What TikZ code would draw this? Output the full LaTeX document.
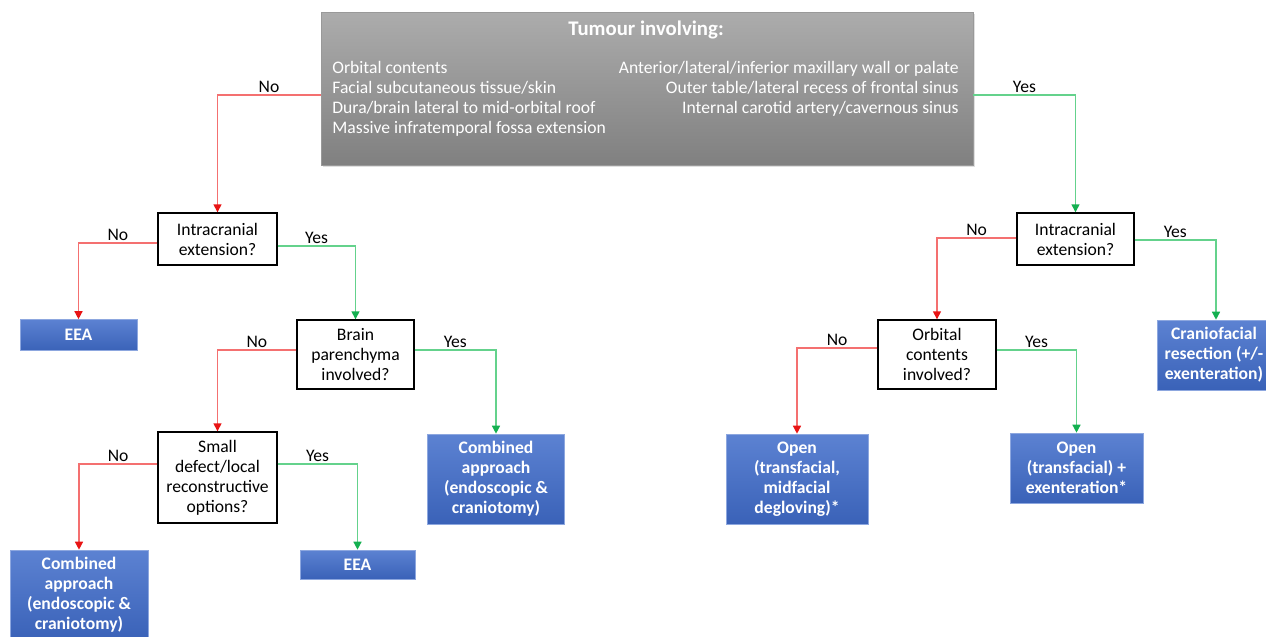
\documentclass[tikz,border=0pt]{standalone}
\usepackage{fontspec}
\setmainfont{Carlito}
\usepackage{xcolor}
\usetikzlibrary{arrows.meta}
\usetikzlibrary{shadows}

\definecolor{greytop}{RGB}{172,172,172}
\definecolor{greybot}{RGB}{128,128,128}
\definecolor{bluetop}{RGB}{92,130,210}
\definecolor{bluebot}{RGB}{58,98,184}
\definecolor{nored}{RGB}{244,112,112}
\definecolor{notip}{RGB}{232,20,20}
\definecolor{yesgreen}{RGB}{100,210,140}
\definecolor{yestip}{RGB}{20,176,80}

\newcommand{\boxfont}{\fontsize{8.8}{10}\selectfont}

\tikzset{
  question/.style={draw=black, line width=0.7pt, fill=white, align=center,
                   inner sep=0pt},
  answer/.style={top color=bluetop, bottom color=bluebot, draw=bluetop!70,
                 line width=0.3pt, text=white, font=\boxfont\bfseries,
                 align=center, inner sep=0pt},
  nowire/.style={nored, line width=0.7pt,
                 -{Triangle[width=4pt,length=4pt,color=notip]}},
  yeswire/.style={yesgreen, line width=0.7pt,
                  -{Triangle[width=4pt,length=4pt,color=yestip]}},
  branch/.style={above, inner sep=1pt, text=black}
}

\begin{document}
\begin{tikzpicture}[x=0.5pt, y=-0.5pt, font=\boxfont]
\useasboundingbox (0,0) rectangle (1266,637);

\node [top color=greytop, bottom color=greybot, draw=greybot!80,
       drop shadow={opacity=0.25, shadow xshift=0.8pt, shadow yshift=-0.8pt},
       minimum width=326pt, minimum height=76.5pt, inner sep=0pt]
       (tumour) at (647,88.5) {};
\node [text=white, font=\fontsize{10.4}{12}\selectfont\bfseries] (title) at (646,30) {Tumour involving:};
\node [text=white, anchor=west, align=left, inner sep=0pt] (leftlist) at (332,99)
       {Orbital contents\\Facial subcutaneous tissue/skin\\Dura/brain lateral to mid-orbital roof\\Massive infratemporal fossa extension};
\node [text=white, anchor=east, align=right, inner sep=0pt] (rightlist) at (959,89)
       {Anterior/lateral/inferior maxillary wall or palate\\Outer table/lateral recess of frontal sinus\\Internal carotid artery/cavernous sinus};

\node [question, minimum width=59.5pt, minimum height=26pt]
       (ictwo) at (217.5,239) {Intracranial\\extension?};
\node [question, minimum width=58.5pt, minimum height=34.5pt]
       (brain) at (355.5,354.5) {Brain\\parenchyma\\involved?};
\node [question, minimum width=59.5pt, minimum height=45.5pt]
       (defect) at (217.5,477.5) {Small\\defect/local\\reconstructive\\options?};
\node [question, minimum width=58.5pt, minimum height=26pt]
       (icone) at (1075.5,239) {Intracranial\\extension?};
\node [question, minimum width=59pt, minimum height=34.5pt]
       (orbit) at (937,354.5) {Orbital\\contents\\involved?};

\node [answer, minimum width=58.5pt, minimum height=15.5pt]
       (eeaone) at (78.5,335) {EEA};
\node [answer, minimum width=68.5pt, minimum height=45pt]
       (combone) at (496,479) {Combined\\approach\\(endoscopic \&\\craniotomy)};
\node [answer, minimum width=69pt, minimum height=45pt]
       (combtwo) at (79,595) {Combined\\approach\\(endoscopic \&\\craniotomy)};
\node [answer, minimum width=57.5pt, minimum height=14.5pt]
       (eeatwo) at (357.5,564.5) {EEA};
\node [answer, minimum width=71pt, minimum height=45pt]
       (openone) at (797,479) {Open\\(transfacial,\\midfacial\\degloving)*};
\node [answer, minimum width=66.5pt, minimum height=35pt]
       (opentwo) at (1076.5,468) {Open\\(transfacial) +\\exenteration*};
\node [answer, minimum width=57pt, minimum height=35pt]
       (cranio) at (1214,355) {Craniofacial\\resection (+/-\\exenteration)};

\draw [nowire] ([yshift=-3.25pt]tumour.west) -| node[branch, pos=0.25] {No} (ictwo.north);
\draw [yeswire] ([yshift=-3.25pt]tumour.east) -| node[branch, pos=0.25] {Yes} (icone.north);

\draw [nowire] ([yshift=-2pt]ictwo.west) -| node[branch, pos=0.25] {No} (eeaone.north);
\draw [yeswire] ([yshift=-3.5pt]ictwo.east) -| node[branch, pos=0.25] {Yes} (brain.north);
\draw [nowire] ([yshift=2.25pt]brain.west) -| node[branch, pos=0.25] {No} (defect.north);
\draw [yeswire] ([yshift=2.25pt]brain.east) -| node[branch, pos=0.25] {Yes} (combone.north);
\draw [nowire] ([yshift=6.75pt]defect.west) -| node[branch, pos=0.25] {No} (combtwo.north);
\draw [yeswire] ([yshift=6.75pt]defect.east) -| node[branch, pos=0.25] {Yes} (eeatwo.north);

\draw [nowire] ([yshift=0.5pt]icone.west) -| node[branch, pos=0.25] {No} (orbit.north);
\draw [yeswire] ([yshift=-0.5pt]icone.east) -| node[branch, pos=0.25] {Yes} ([xshift=1pt]cranio.north);
\draw [nowire] ([yshift=3.25pt]orbit.west) -| node[branch, pos=0.25] {No} (openone.north);
\draw [yeswire] ([yshift=2.25pt]orbit.east) -| node[branch, pos=0.25] {Yes} (opentwo.north);
\end{tikzpicture}
\end{document}
